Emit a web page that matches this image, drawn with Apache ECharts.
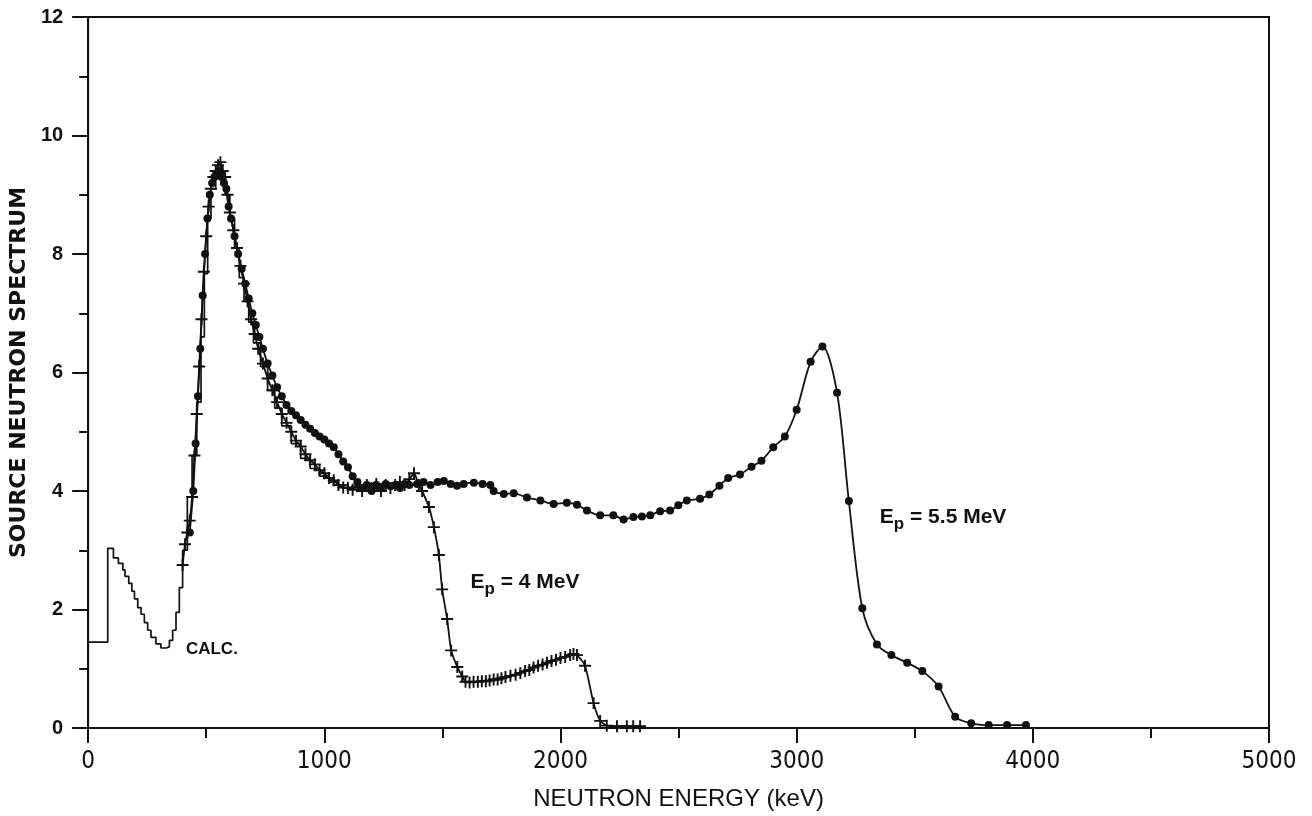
<!DOCTYPE html>
<html>
<head>
<meta charset="utf-8">
<script src="https://cdn.jsdelivr.net/npm/echarts@6/dist/echarts.min.js"></script>
<style>
html,body{margin:0;padding:0;background:#fff;overflow:hidden;}
#chart{width:1312px;height:816px;}
</style>
</head>
<body>
<div id="chart"></div>
<script>
// ---- data (keV, spectrum) ----
var xTicks = [0, 1000, 2000, 3000, 4000, 5000];
var yTicks = [0, 2, 4, 6, 8, 10, 12];

// calculated histogram: [bin start energy, value]
var calc = [[0,1.45],[83,3.03],[107,2.87],[128,2.78],[147,2.67],[156,2.56],[172,2.44],[185,2.31],[196,2.18],[210,2.03],[224,1.92],[238,1.78],[252,1.65],[266,1.53],[287,1.42],[308,1.35],[330,1.37],[344,1.48],[358,1.65],[372,1.95],[386,2.37],[400,3.0],[420,3.9],[440,4.6],[460,5.5],[478,6.6],[492,7.67],[506,8.6],[520,9.1],[540,9.3],[560,9.3],[580,9.0],[600,8.6],[620,8.1],[640,7.6],[660,7.2],[680,6.85],[700,6.5],[730,6.1],[760,5.7],[790,5.4],[820,5.1],[860,4.8],[900,4.55],[940,4.38],[980,4.25],[1020,4.15],[1060,4.1],[1100,4.06],[1150,4.06]];

// Ep = 4 MeV measurement (+ markers)
var ep4 = [[400,2.75],[410,3.1],[420,3.3],[430,3.5],[440,3.9],[450,4.6],[460,5.3],[470,6.1],[480,6.9],[490,7.7],[500,8.3],[510,8.8],[520,9.1],[530,9.3],[540,9.4],[550,9.5],[560,9.55],[570,9.4],[580,9.3],[590,9.0],[600,8.7],[615,8.4],[630,8.1],[645,7.8],[660,7.5],[675,7.2],[690,6.9],[705,6.65],[720,6.4],[740,6.15],[760,5.9],[780,5.7],[800,5.5],[820,5.3],[840,5.15],[860,5.0],[880,4.85],[900,4.75],[920,4.62],[940,4.52],[960,4.45],[980,4.35],[1000,4.3],[1020,4.22],[1040,4.18],[1060,4.1],[1080,4.06],[1100,4.05],[1120,4.02],[1140,4.08],[1160,4.0],[1180,4.1],[1200,4.05],[1220,4.12],[1240,4.0],[1260,4.1],[1280,4.05],[1300,4.1],[1320,4.15],[1340,4.1],[1360,4.2],[1380,4.3],[1400,4.1],[1414,4.0],[1443,3.73],[1464,3.39],[1485,2.92],[1499,2.34],[1520,1.84],[1537,1.31],[1563,1.03],[1584,0.87],[1598,0.78],[1615,0.77],[1632,0.78],[1650,0.78],[1667,0.79],[1684,0.79],[1700,0.8],[1717,0.82],[1734,0.82],[1750,0.84],[1767,0.86],[1788,0.88],[1810,0.9],[1830,0.93],[1850,0.96],[1868,0.98],[1886,1.02],[1905,1.05],[1924,1.07],[1943,1.1],[1962,1.13],[1981,1.15],[2000,1.18],[2020,1.2],[2041,1.23],[2055,1.25],[2070,1.23],[2104,1.05],[2140,0.42],[2168,0.12],[2196,0.04],[2239,0.03],[2281,0.03],[2308,0.03],[2337,0.03]];

// Ep = 5.5 MeV measurement (dot markers)
var ep55 = [[430,3.3],[445,4.0],[455,4.8],[465,5.6],[475,6.4],[485,7.3],[495,8.0],[505,8.6],[515,9.0],[525,9.2],[535,9.3],[545,9.35],[555,9.4],[565,9.3],[575,9.2],[585,9.1],[595,8.8],[605,8.6],[620,8.3],[635,8.0],[650,7.75],[665,7.5],[680,7.25],[695,7.0],[710,6.8],[725,6.6],[740,6.4],[760,6.15],[780,5.95],[800,5.75],[820,5.6],[840,5.45],[860,5.35],[880,5.28],[900,5.2],[920,5.12],[940,5.05],[960,4.98],[980,4.92],[1000,4.87],[1020,4.8],[1040,4.74],[1060,4.62],[1080,4.5],[1100,4.4],[1120,4.25],[1140,4.15],[1160,4.05],[1180,4.1],[1200,4.0],[1220,4.1],[1240,4.05],[1260,4.12],[1280,4.08],[1300,4.1],[1320,4.05],[1340,4.12],[1360,4.1],[1393,4.12],[1420,4.15],[1450,4.1],[1480,4.15],[1506,4.17],[1535,4.12],[1562,4.09],[1590,4.12],[1633,4.14],[1670,4.12],[1703,4.1],[1717,4.0],[1760,3.95],[1802,3.96],[1858,3.89],[1915,3.84],[1971,3.78],[2027,3.8],[2070,3.77],[2112,3.67],[2168,3.59],[2224,3.59],[2267,3.52],[2309,3.56],[2345,3.57],[2380,3.59],[2422,3.66],[2464,3.67],[2499,3.76],[2535,3.84],[2591,3.87],[2630,3.94],[2673,4.09],[2710,4.22],[2760,4.28],[2809,4.41],[2851,4.51],[2901,4.74],[2950,4.92],[3000,5.37],[3059,6.18],[3109,6.44],[3171,5.66],[3221,3.83],[3278,2.02],[3340,1.41],[3401,1.23],[3468,1.1],[3532,0.96],[3601,0.7],[3671,0.19],[3739,0.08],[3813,0.05],[3891,0.05],[3971,0.05]];

// annotation texts with anchor in data coordinates (left edge, vertical middle)
var notes = [
  {kind: 'plain', text: 'CALC.', at: [414, 1.33]},
  {kind: 'ep', main: 'E', sub: 'p', rest: ' = 4 MeV', at: [1619, 2.45]},
  {kind: 'ep', main: 'E', sub: 'p', rest: ' = 5.5 MeV', at: [3352, 3.55]}
];

var INK = '#111';
var plusPath = 'path://M0,4.2H10V5.8H0Z M4.2,0H5.8V10H4.2Z';

var chart = echarts.init(document.getElementById('chart'), null, {renderer: 'canvas'});
var option = {
  backgroundColor: '#fff',
  animation: false,
  grid: {left: 86, right: 43, top: 17, bottom: 79, show: true, borderColor: INK, borderWidth: 2, backgroundColor: 'transparent'},
  xAxis: {
    type: 'value', min: xTicks[0], max: xTicks[xTicks.length - 1], interval: 1000,
    name: 'NEUTRON ENERGY (keV)', nameLocation: 'middle', nameGap: 59,
    nameTextStyle: {fontFamily: '"Liberation Sans", sans-serif', fontSize: 24, color: INK},
    axisLine: {show: true, onZero: false, lineStyle: {color: INK, width: 2}},
    axisTick: {show: true, length: 15, lineStyle: {color: INK, width: 2}},
    minorTick: {show: true, splitNumber: 2, length: 10, lineStyle: {color: INK, width: 2}},
    splitLine: {show: false},
    axisLabel: {margin: 22, fontFamily: '"Liberation Sans Narrow", "DejaVu Sans Condensed", sans-serif', fontSize: 24, color: INK,
      formatter: function (v) { return String(v); }}
  },
  yAxis: {
    type: 'value', min: yTicks[0], max: yTicks[yTicks.length - 1], interval: 2,
    name: 'SOURCE NEUTRON SPECTRUM', nameLocation: 'middle', nameGap: 56, nameRotate: 90,
    nameTextStyle: {fontFamily: '"DejaVu Sans", sans-serif', fontWeight: 'bold', fontSize: 22, color: INK},
    axisLine: {show: true, onZero: false, lineStyle: {color: INK, width: 2}},
    axisTick: {show: true, length: 16, lineStyle: {color: INK, width: 2}},
    minorTick: {show: true, splitNumber: 2, length: 9, lineStyle: {color: INK, width: 2}},
    splitLine: {show: false},
    axisLabel: {margin: 25, fontFamily: '"Liberation Sans", sans-serif', fontWeight: 'bold', fontSize: 20, color: INK}
  },
  series: [
    {
      name: 'CALC.', type: 'line', data: calc, step: 'end', symbol: 'none',
      lineStyle: {color: INK, width: 1.7}, z: 3
    },
    {
      name: 'Ep = 4 MeV', type: 'line', data: ep4, smooth: 0.2,
      symbol: plusPath, symbolSize: 12, showAllSymbol: true,
      itemStyle: {color: INK},
      lineStyle: {color: INK, width: 1.8}, z: 4
    },
    {
      name: 'Ep = 5.5 MeV', type: 'line', data: ep55, smooth: 0.3,
      symbol: 'circle', symbolSize: 8, showAllSymbol: true,
      itemStyle: {color: INK},
      lineStyle: {color: INK, width: 1.8}, z: 5
    }
  ]
};
chart.setOption(option);

var graphics = notes.map(function (n) {
  var p = chart.convertToPixel({xAxisIndex: 0, yAxisIndex: 0}, n.at);
  if (n.kind === 'plain') {
    return {type: 'text', x: p[0], y: p[1], z: 10, style: {
      text: n.text, fill: INK, font: 'bold 17px "Liberation Sans", sans-serif',
      verticalAlign: 'middle', align: 'left'}};
  }
  return {type: 'text', x: p[0], y: p[1] - 11, z: 10, style: {
    text: '{e|' + n.main + '}{s|' + n.sub + '}{e|' + n.rest + '}',
    fill: INK, align: 'left', verticalAlign: 'top',
    rich: {
      e: {fontFamily: '"Liberation Sans", sans-serif', fontWeight: 'bold', fontSize: 21, lineHeight: 22, verticalAlign: 'top', fill: INK},
      s: {fontFamily: '"Liberation Sans", sans-serif', fontWeight: 'bold', fontSize: 17, lineHeight: 18, padding: [9, 0, 0, 0], verticalAlign: 'top', fill: INK}
    }}};
});
chart.setOption({graphic: graphics});
</script>
</body>
</html>
